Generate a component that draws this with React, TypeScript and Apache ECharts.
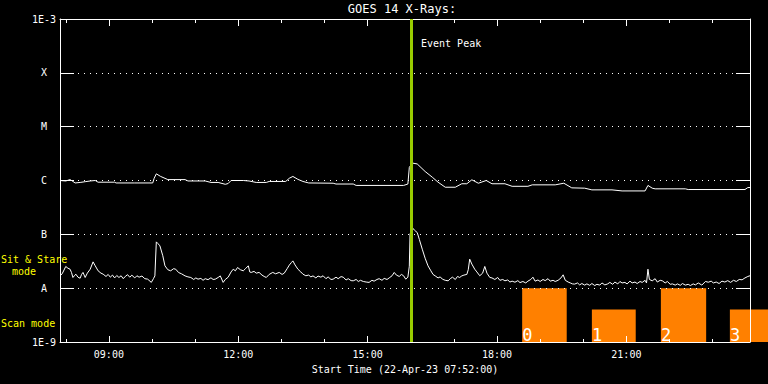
import React, { useEffect, useRef } from "react";
import * as echarts from "echarts";

const START = "07:52";
const END = "23:52";
const EVENT_PEAK = "16:00";
const TITLE = "GOES 14 X-Rays:";
const X_NAME = "Start Time (22-Apr-23 07:52:00)";
const majorTickTimes = ["09:00", "12:00", "15:00", "18:00", "21:00"];
const minorTickTimes = [
  "08:00", "09:00", "10:00", "11:00", "12:00", "13:00", "14:00", "15:00",
  "16:00", "17:00", "18:00", "19:00", "20:00", "21:00", "22:00", "23:00",
];
const yDecadeValues = [1e-9, 1e-8, 1e-7, 1e-6, 1e-5, 1e-4, 1e-3];
const yDecadeLabels = ["1E-9", "A", "B", "C", "M", "X", "1E-3"];

// 1-8 Angstrom channel (W/m^2)
const longChannel: [string, number][] = [
  ["07:52", 1.0e-6], ["08:00", 0.98e-6], ["08:06", 1.04e-6], ["08:10", 0.96e-6],
  ["08:13", 0.9e-6], ["08:20", 0.92e-6], ["08:27", 0.95e-6], ["08:34", 0.98e-6],
  ["08:41", 1.0e-6], ["08:45", 0.93e-6], ["09:08", 0.93e-6], ["09:10", 0.9e-6],
  ["09:36", 0.9e-6], ["10:01", 0.9e-6], ["10:03", 1.1e-6], ["10:06", 1.33e-6],
  ["10:12", 1.19e-6], ["10:22", 1.04e-6], ["10:46", 1.04e-6], ["10:50", 0.98e-6],
  ["11:14", 0.98e-6], ["11:22", 0.92e-6], ["11:32", 0.92e-6], ["11:42", 0.85e-6],
  ["11:46", 0.88e-6], ["11:50", 1.0e-6], ["12:07", 1.0e-6], ["12:15", 0.98e-6],
  ["12:25", 0.92e-6], ["12:39", 0.92e-6], ["12:43", 0.96e-6], ["13:06", 0.96e-6],
  ["13:11", 1.1e-6], ["13:16", 1.19e-6], ["13:23", 1.05e-6], ["13:30", 0.96e-6],
  ["13:38", 0.9e-6], ["14:12", 0.89e-6], ["14:16", 0.86e-6], ["14:40", 0.86e-6],
  ["14:44", 0.81e-6], ["15:50", 0.81e-6], ["15:56", 0.86e-6], ["15:58", 1.75e-6],
  ["16:02", 2.11e-6], ["16:09", 2.03e-6], ["16:20", 1.47e-6], ["16:30", 1.15e-6],
  ["16:38", 0.93e-6], ["16:48", 0.75e-6], ["17:02", 0.75e-6], ["17:11", 0.87e-6],
  ["17:18", 0.87e-6], ["17:25", 1.03e-6], ["17:34", 0.89e-6], ["17:45", 1.0e-6],
  ["17:53", 0.87e-6], ["18:11", 0.87e-6], ["18:21", 0.78e-6], ["18:43", 0.78e-6],
  ["18:49", 0.83e-6], ["19:21", 0.83e-6], ["19:33", 0.89e-6], ["19:44", 0.73e-6],
  ["20:02", 0.72e-6], ["20:12", 0.67e-6], ["20:40", 0.67e-6], ["20:54", 0.64e-6],
  ["21:26", 0.64e-6], ["21:30", 0.81e-6], ["21:36", 0.72e-6], ["21:40", 0.7e-6],
  ["22:22", 0.7e-6], ["22:26", 0.68e-6], ["23:45", 0.68e-6], ["23:49", 0.74e-6],
  ["23:52", 0.74e-6],
];

// 0.5-4 Angstrom channel (W/m^2)
const shortChannel: [string, number][] = [
  ["07:52", 1.69e-8], ["07:55", 1.85e-8], ["08:00", 2.53e-8], ["08:03", 2.35e-8],
  ["08:06", 2.25e-8], ["08:08", 1.95e-8], ["08:10", 1.58e-8], ["08:12", 1.7e-8],
  ["08:14", 1.82e-8], ["08:17", 1.6e-8], ["08:20", 1.53e-8], ["08:22", 1.8e-8],
  ["08:24", 1.96e-8], ["08:27", 1.58e-8], ["08:30", 1.9e-8], ["08:34", 2.25e-8],
  ["08:38", 3.08e-8], ["08:41", 2.6e-8], ["08:45", 2.1e-8], ["08:49", 1.9e-8],
  ["08:52", 1.82e-8], ["08:56", 1.65e-8], ["08:59", 1.8e-8], ["09:02", 1.6e-8],
  ["09:05", 1.75e-8], ["09:08", 1.55e-8], ["09:11", 1.72e-8], ["09:14", 1.58e-8],
  ["09:17", 1.7e-8], ["09:20", 1.5e-8], ["09:23", 1.66e-8], ["09:26", 1.78e-8],
  ["09:29", 1.6e-8], ["09:32", 1.74e-8], ["09:36", 1.55e-8], ["09:39", 1.7e-8],
  ["09:42", 1.6e-8], ["09:46", 1.68e-8], ["09:50", 1.5e-8], ["09:54", 1.47e-8],
  ["09:59", 1.28e-8], ["10:02", 1.5e-8], ["10:04", 1.69e-8], ["10:06", 7.24e-8],
  ["10:08", 6.8e-8], ["10:11", 6.11e-8], ["10:15", 4.0e-8], ["10:18", 2.6e-8],
  ["10:22", 2.2e-8], ["10:26", 2.1e-8], ["10:30", 2.3e-8], ["10:33", 2.25e-8],
  ["10:37", 1.95e-8], ["10:41", 1.85e-8], ["10:46", 1.69e-8], ["10:50", 1.62e-8],
  ["10:54", 1.58e-8], ["10:58", 1.45e-8], ["11:01", 1.55e-8], ["11:04", 1.47e-8],
  ["11:08", 1.52e-8], ["11:11", 1.4e-8], ["11:14", 1.5e-8], ["11:18", 1.44e-8],
  ["11:22", 1.56e-8], ["11:25", 1.45e-8], ["11:28", 1.47e-8], ["11:32", 1.58e-8],
  ["11:35", 1.69e-8], ["11:39", 1.28e-8], ["11:42", 1.45e-8], ["11:46", 1.6e-8],
  ["11:50", 2.0e-8], ["11:53", 2.25e-8], ["11:56", 2.1e-8], ["11:59", 2.42e-8],
  ["12:03", 2.2e-8], ["12:07", 2.1e-8], ["12:10", 2.3e-8], ["12:14", 2.6e-8],
  ["12:16", 2.0e-8], ["12:18", 1.96e-8], ["12:22", 2.05e-8], ["12:25", 1.9e-8],
  ["12:29", 1.96e-8], ["12:33", 1.75e-8], ["12:36", 1.65e-8], ["12:39", 1.58e-8],
  ["12:43", 1.8e-8], ["12:48", 1.96e-8], ["12:52", 1.85e-8], ["12:57", 1.96e-8],
  ["13:01", 1.8e-8], ["13:04", 1.9e-8], ["13:08", 2.3e-8], ["13:11", 2.68e-8],
  ["13:14", 3.0e-8], ["13:16", 3.21e-8], ["13:19", 2.7e-8], ["13:23", 2.25e-8],
  ["13:27", 2.0e-8], ["13:30", 1.82e-8], ["13:34", 1.7e-8], ["13:38", 1.75e-8],
  ["13:41", 1.62e-8], ["13:44", 1.69e-8], ["13:48", 1.55e-8], ["13:51", 1.68e-8],
  ["13:55", 1.6e-8], ["13:58", 1.7e-8], ["14:02", 1.5e-8], ["14:05", 1.62e-8],
  ["14:09", 1.45e-8], ["14:12", 1.47e-8], ["14:16", 1.6e-8], ["14:19", 1.5e-8],
  ["14:23", 1.64e-8], ["14:26", 1.6e-8], ["14:30", 1.42e-8], ["14:33", 1.5e-8],
  ["14:37", 1.38e-8], ["14:40", 1.37e-8], ["14:44", 1.45e-8], ["14:47", 1.33e-8],
  ["14:50", 1.4e-8], ["14:54", 1.33e-8], ["14:58", 1.3e-8], ["15:02", 1.28e-8],
  ["15:06", 1.4e-8], ["15:09", 1.35e-8], ["15:13", 1.45e-8], ["15:16", 1.5e-8],
  ["15:20", 1.4e-8], ["15:23", 1.52e-8], ["15:27", 1.45e-8], ["15:30", 1.55e-8],
  ["15:34", 1.7e-8], ["15:37", 1.96e-8], ["15:40", 1.75e-8], ["15:44", 1.65e-8],
  ["15:47", 1.8e-8], ["15:50", 1.7e-8], ["15:53", 1.47e-8], ["15:56", 1.6e-8],
  ["15:58", 2.56e-8], ["15:59", 10.05e-8], ["16:02", 13.4e-8], ["16:05", 12.0e-8],
  ["16:09", 10.8e-8], ["16:12", 8.0e-8], ["16:16", 5.3e-8], ["16:20", 3.6e-8],
  ["16:24", 2.6e-8], ["16:28", 2.1e-8], ["16:31", 1.8e-8], ["16:34", 1.69e-8],
  ["16:38", 1.55e-8], ["16:41", 1.62e-8], ["16:44", 1.47e-8], ["16:48", 1.4e-8],
  ["16:52", 1.37e-8], ["16:55", 1.5e-8], ["16:58", 1.6e-8], ["17:02", 1.45e-8],
  ["17:05", 1.65e-8], ["17:08", 1.58e-8], ["17:11", 1.69e-8], ["17:14", 1.75e-8],
  ["17:18", 1.8e-8], ["17:20", 2.2e-8], ["17:22", 3.46e-8], ["17:25", 2.8e-8],
  ["17:29", 2.25e-8], ["17:32", 2.0e-8], ["17:36", 1.7e-8], ["17:40", 1.9e-8],
  ["17:43", 2.53e-8], ["17:46", 1.9e-8], ["17:50", 1.58e-8], ["17:53", 1.55e-8],
  ["17:57", 1.45e-8], ["18:01", 1.58e-8], ["18:04", 1.4e-8], ["18:08", 1.45e-8],
  ["18:11", 1.37e-8], ["18:15", 1.42e-8], ["18:18", 1.3e-8], ["18:21", 1.35e-8],
  ["18:25", 1.29e-8], ["18:29", 1.38e-8], ["18:32", 1.27e-8], ["18:36", 1.33e-8],
  ["18:40", 1.25e-8], ["18:43", 1.35e-8], ["18:47", 1.45e-8], ["18:50", 1.6e-8],
  ["18:53", 1.35e-8], ["18:57", 1.42e-8], ["19:00", 1.33e-8], ["19:04", 1.45e-8],
  ["19:07", 1.38e-8], ["19:11", 1.5e-8], ["19:14", 1.35e-8], ["19:18", 1.4e-8],
  ["19:21", 1.33e-8], ["19:25", 1.4e-8], ["19:29", 1.55e-8], ["19:32", 1.77e-8],
  ["19:35", 1.4e-8], ["19:39", 1.3e-8], ["19:42", 1.25e-8], ["19:45", 1.2e-8],
  ["19:48", 1.19e-8], ["19:52", 1.25e-8], ["19:55", 1.15e-8], ["19:58", 1.22e-8],
  ["20:02", 1.14e-8], ["20:05", 1.2e-8], ["20:09", 1.13e-8], ["20:12", 1.22e-8],
  ["20:16", 1.12e-8], ["20:19", 1.18e-8], ["20:23", 1.14e-8], ["20:26", 1.25e-8],
  ["20:30", 1.15e-8], ["20:34", 1.2e-8], ["20:37", 1.28e-8], ["20:41", 1.18e-8],
  ["20:44", 1.3e-8], ["20:48", 1.2e-8], ["20:51", 1.33e-8], ["20:54", 1.25e-8],
  ["20:58", 1.28e-8], ["21:01", 1.2e-8], ["21:05", 1.35e-8], ["21:08", 1.25e-8],
  ["21:12", 1.3e-8], ["21:15", 1.22e-8], ["21:19", 1.33e-8], ["21:22", 1.28e-8],
  ["21:26", 1.4e-8], ["21:28", 1.25e-8], ["21:30", 2.25e-8], ["21:32", 1.45e-8],
  ["21:36", 1.37e-8], ["21:40", 1.5e-8], ["21:43", 1.3e-8], ["21:47", 1.4e-8],
  ["21:50", 1.37e-8], ["21:54", 1.25e-8], ["21:57", 1.33e-8], ["22:01", 1.18e-8],
  ["22:04", 1.2e-8], ["22:08", 1.14e-8], ["22:11", 1.2e-8], ["22:15", 1.13e-8],
  ["22:18", 1.22e-8], ["22:22", 1.14e-8], ["22:26", 1.18e-8], ["22:29", 1.12e-8],
  ["22:33", 1.2e-8], ["22:36", 1.15e-8], ["22:40", 1.25e-8], ["22:45", 1.14e-8],
  ["22:50", 1.33e-8], ["22:54", 1.29e-8], ["22:58", 1.35e-8], ["23:01", 1.25e-8],
  ["23:05", 1.3e-8], ["23:09", 1.22e-8], ["23:13", 1.35e-8], ["23:17", 1.3e-8],
  ["23:21", 1.38e-8], ["23:25", 1.28e-8], ["23:29", 1.4e-8], ["23:33", 1.33e-8],
  ["23:37", 1.45e-8], ["23:41", 1.43e-8], ["23:45", 1.55e-8], ["23:49", 1.65e-8],
  ["23:52", 1.7e-8],
];

// Scan-mode blocks
const scanStarts = ["18:35", "20:12", "21:48", "23:24"];
const scanEnds = ["19:37", "21:13", "22:51", "24:26"];
const scanLevels = [1e-8, 4e-9, 1e-8, 4e-9];
const scanLabels = ["0", "1", "2", "3"];

const FONT = "DejaVu Sans Mono";
const WHITE = "#ffffff";
const YELLOW = "#ffff00";
const ORANGE = "#ff8000";
const GREEN = "#99cc00";

const toMin = (s: string) => {
  const [h, m] = s.split(":").map(Number);
  return h * 60 + m;
};
const fmtMin = (v: number) => {
  const h = Math.floor(Math.round(v) / 60);
  const m = Math.round(v) % 60;
  return `${String(h).padStart(2, "0")}:${String(m).padStart(2, "0")}`;
};

function buildOption(): any {
  const xMin = toMin(START);
  const xMax = toMin(END);
  const major = majorTickTimes.map(toMin);
  const minor = minorTickTimes.map(toMin);
  const baseX = {
    type: "value",
    min: xMin,
    max: xMax,
    splitLine: { show: false },
    z: 5,
  };
  const yLabel = (v: number) => {
    const idx = Math.round(Math.log10(v)) + 9;
    return yDecadeLabels[idx] ?? "";
  };
  const baseY = {
    type: "log",
    logBase: 10,
    min: yDecadeValues[0],
    max: yDecadeValues[yDecadeValues.length - 1],
    splitNumber: 6,
    z: 5,
  };
  return {
    animation: false,
    backgroundColor: "#000000",
    grid: { left: 60, right: 18, top: 19, bottom: 42, containLabel: false },
    xAxis: [
      {
        ...baseX,
        position: "bottom",
        axisLine: { show: true, lineStyle: { color: WHITE, width: 1 } },
        axisTick: { show: true, inside: true, length: 6, customValues: major, lineStyle: { color: WHITE } },
        axisLabel: {
          show: true, customValues: major, formatter: (v: number) => fmtMin(v),
          color: WHITE, fontSize: 10, fontFamily: FONT, margin: 7,
        },
        name: X_NAME,
        nameLocation: "middle",
        nameGap: 22,
        nameTextStyle: { color: WHITE, fontSize: 10, fontFamily: FONT },
      },
      {
        ...baseX,
        position: "bottom",
        axisLine: { show: false },
        axisTick: { show: true, inside: true, length: 3, customValues: minor, lineStyle: { color: WHITE } },
        axisLabel: { show: false },
      },
      {
        ...baseX,
        position: "top",
        axisLine: { show: true, lineStyle: { color: WHITE, width: 1 } },
        axisTick: { show: true, inside: true, length: 7, customValues: major, lineStyle: { color: WHITE } },
        axisLabel: { show: false },
      },
      {
        ...baseX,
        position: "top",
        axisLine: { show: false },
        axisTick: { show: true, inside: true, length: 4, customValues: minor, lineStyle: { color: WHITE } },
        axisLabel: { show: false },
      },
    ],
    yAxis: [
      {
        ...baseY,
        position: "left",
        axisLine: { show: true, lineStyle: { color: WHITE, width: 1 } },
        axisTick: { show: true, inside: true, length: 14, customValues: yDecadeValues, lineStyle: { color: WHITE } },
        axisLabel: {
          show: true, customValues: yDecadeValues, formatter: yLabel,
          color: WHITE, fontSize: 10, fontFamily: FONT, align: "center", margin: 16,
        },
        splitLine: { show: true, lineStyle: { color: WHITE, type: [1, 5], width: 1 } },
      },
      {
        ...baseY,
        position: "right",
        axisLine: { show: true, lineStyle: { color: WHITE, width: 1 } },
        axisTick: { show: true, inside: true, length: 14, customValues: yDecadeValues, lineStyle: { color: WHITE } },
        axisLabel: { show: false },
        splitLine: { show: false },
      },
    ],
    series: [
      {
        type: "custom",
        name: "Scan mode",
        xAxisIndex: 0,
        yAxisIndex: 0,
        clip: false,
        z: 1,
        encode: { x: [0, 1], y: 2 },
        data: scanStarts.map((s, i) => [toMin(s), toMin(scanEnds[i]), scanLevels[i], i]),
        renderItem: (params: any, api: any) => {
          const x0 = api.value(0);
          const x1 = api.value(1);
          const lvl = api.value(2);
          const idx = api.value(3);
          const p0 = api.coord([x0, lvl]);
          const p1 = api.coord([x1, yDecadeValues[0]]);
          return {
            type: "group",
            children: [
              {
                type: "rect",
                shape: { x: p0[0], y: p0[1], width: p1[0] - p0[0], height: p1[1] - p0[1] },
                style: { fill: ORANGE },
              },
              {
                type: "text",
                style: {
                  text: scanLabels[idx],
                  x: p0[0] + 0,
                  y: p1[1] + 1,
                  fill: WHITE,
                  font: `17px ${FONT}`,
                  align: "left",
                  verticalAlign: "bottom",
                },
              },
            ],
          };
        },
      },
      {
        type: "line",
        name: "1-8 A",
        xAxisIndex: 0,
        yAxisIndex: 0,
        showSymbol: false,
        symbol: "none",
        z: 4,
        lineStyle: { color: WHITE, width: 1 },
        data: longChannel.map(([t, v]) => [toMin(t), v]),
      },
      {
        type: "line",
        name: "0.5-4 A",
        xAxisIndex: 0,
        yAxisIndex: 0,
        showSymbol: false,
        symbol: "none",
        z: 4,
        lineStyle: { color: WHITE, width: 1 },
        data: shortChannel.map(([t, v]) => [toMin(t), v]),
        markLine: {
          silent: true,
          symbol: ["none", "none"],
          label: { show: false },
          lineStyle: { color: GREEN, type: "solid", width: 3 },
          data: [{ xAxis: toMin(EVENT_PEAK) }],
          z: 6,
        },
      },
    ],
    graphic: [
      {
        type: "text", x: 402, y: 9,
        style: { text: TITLE, fill: WHITE, font: `12px ${FONT}`, align: "center", verticalAlign: "middle" },
      },
      {
        type: "text", x: 421, y: 43,
        style: { text: "Event Peak", fill: WHITE, font: `10px ${FONT}`, align: "left", verticalAlign: "middle" },
      },
      {
        type: "text", x: 1, y: 259,
        style: { text: "Sit & Stare", fill: YELLOW, font: `10px ${FONT}`, align: "left", verticalAlign: "middle" },
      },
      {
        type: "text", x: 12, y: 271,
        style: { text: "mode", fill: YELLOW, font: `10px ${FONT}`, align: "left", verticalAlign: "middle" },
      },
      {
        type: "text", x: 1, y: 323,
        style: { text: "Scan mode", fill: YELLOW, font: `10px ${FONT}`, align: "left", verticalAlign: "middle" },
      },
    ],
  };
}

export default function App() {
  const ref = useRef<HTMLDivElement>(null);
  useEffect(() => {
    document.body.style.margin = "0";
    document.body.style.background = "#000";
    const chart = echarts.init(ref.current as HTMLDivElement, null, { renderer: "svg" });
    chart.setOption(buildOption());
    return () => chart.dispose();
  }, []);
  return <div ref={ref} style={{ width: 768, height: 384, background: "#000" }} />;
}
